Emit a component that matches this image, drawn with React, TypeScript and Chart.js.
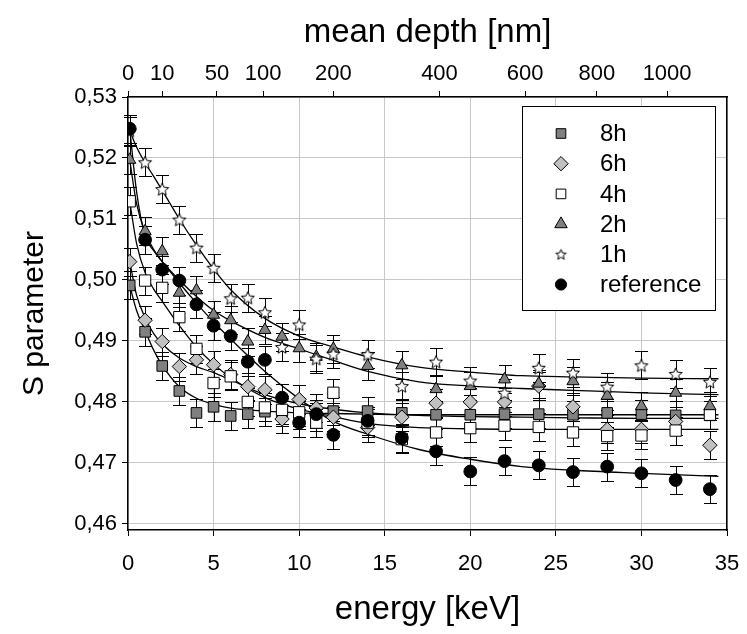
import React, { useEffect, useRef } from 'react';
import { Chart, registerables } from 'chart.js';
import * as helpers from 'chart.js/helpers';

Chart.register(...registerables);

// ---------- data ----------
const energy = [0.1, 1, 2, 3, 4, 5, 6, 7, 8, 9, 10, 11, 12, 14, 16, 18, 20, 22, 24, 26, 28, 30, 32, 34];

const s8h = [0.4991, 0.4915, 0.4859, 0.4818, 0.4782, 0.4792, 0.4777, 0.4780, 0.4784, 0.4783, 0.4778, 0.4775, 0.4785, 0.4785, 0.4782, 0.4779, 0.4779, 0.4780, 0.4780, 0.4779, 0.4782, 0.4780, 0.4778, 0.4778];
const s6h = [0.5030, 0.4934, 0.4899, 0.4858, 0.4869, 0.4861, 0.4845, 0.4825, 0.4820, 0.4772, 0.4804, 0.4790, 0.4775, 0.4758, 0.4775, 0.4798, 0.4800, 0.4800, 0.4826, 0.4792, 0.4755, 0.4755, 0.4768, 0.4729];
const s4h = [0.5129, 0.4999, 0.4987, 0.4939, 0.4887, 0.4831, 0.4842, 0.4800, 0.4791, 0.4787, 0.4783, 0.4766, 0.4815, 0.4766, 0.4739, 0.4750, 0.4757, 0.4761, 0.4759, 0.4750, 0.4744, 0.4745, 0.4753, 0.4779];
const s2h = [0.5197, 0.5080, 0.5047, 0.4979, 0.4983, 0.4943, 0.4934, 0.4899, 0.4918, 0.4907, 0.4888, 0.4874, 0.4887, 0.4859, 0.4860, 0.4821, 0.4826, 0.4837, 0.4830, 0.4834, 0.4810, 0.4793, 0.4815, 0.4793];
const s1h = [0.5245, 0.5193, 0.5149, 0.5099, 0.5053, 0.5020, 0.4970, 0.4971, 0.4947, 0.4890, 0.4927, 0.4871, 0.4879, 0.4878, 0.4826, 0.4866, 0.4835, 0.4815, 0.4856, 0.4848, 0.4825, 0.4860, 0.4846, 0.4833];
const sRef = [0.5248, 0.5066, 0.5017, 0.4999, 0.4960, 0.4925, 0.4908, 0.4866, 0.4869, 0.4807, 0.4766, 0.4780, 0.4746, 0.4769, 0.4741, 0.4719, 0.4686, 0.4703, 0.4696, 0.4685, 0.4694, 0.4683, 0.4672, 0.4657];

const errorHalf = [0.0023, 0.0023, 0.0023, 0.0023, 0.0023, 0.0023];

// fitted curves
const fitEnergy = [0.1, 0.5, 1, 1.5, 2, 3, 4, 5, 6, 8, 10, 12, 14, 17, 20, 23, 26, 30, 34.5];
const fit8h = [0.4991, 0.4950, 0.4917, 0.4885, 0.4860, 0.4825, 0.4806, 0.4796, 0.4790, 0.4785, 0.4782, 0.4781, 0.4780, 0.4779, 0.4779, 0.4779, 0.4779, 0.4779, 0.4779];
const fit6h = [0.5030, 0.4975, 0.4938, 0.4912, 0.4895, 0.4872, 0.4858, 0.4848, 0.4836, 0.4812, 0.4797, 0.4788, 0.4782, 0.4778, 0.4776, 0.4775, 0.4774, 0.4773, 0.4773];
const fit4h = [0.5129, 0.5060, 0.5012, 0.4985, 0.4965, 0.4925, 0.4890, 0.4862, 0.4840, 0.4807, 0.4788, 0.4776, 0.4765, 0.4758, 0.4756, 0.4755, 0.4755, 0.4755, 0.4755];
const fit2h = [0.5197, 0.5125, 0.5078, 0.5050, 0.5030, 0.5000, 0.4973, 0.4950, 0.4933, 0.4906, 0.4887, 0.4868, 0.4850, 0.4833, 0.4826, 0.4822, 0.4819, 0.4815, 0.4812];
const fit1h = [0.5245, 0.5218, 0.5192, 0.5170, 0.5147, 0.5100, 0.5057, 0.5018, 0.4984, 0.4937, 0.4908, 0.4890, 0.4874, 0.4857, 0.4849, 0.4843, 0.4841, 0.4839, 0.4838];
const fitRef = [0.5248, 0.5145, 0.5072, 0.5048, 0.5030, 0.4995, 0.4962, 0.4931, 0.4903, 0.4850, 0.4805, 0.4768, 0.4747, 0.4722, 0.4706, 0.4694, 0.4688, 0.4683, 0.4678];

const seriesLabels = ['8h', '6h', '4h', '2h', '1h', 'reference'];

const xTicks = [0, 5, 10, 15, 20, 25, 30, 35];
const yTicks = [0.46, 0.47, 0.48, 0.49, 0.50, 0.51, 0.52, 0.53];
const depthLabels = ['0', '10', '50', '100', '200', '400', '600', '800', '1000'];
const depthTickEnergy = [0, 2.0, 5.2, 7.9, 12.0, 18.2, 23.2, 27.4, 31.5];

// ---------- styles ----------
const FONT = "'Liberation Sans', Arial, sans-serif";

function makeStar(R: number, lw: number): HTMLCanvasElement {
  const size = Math.ceil(2 * R + 2 * lw + 2);
  const c = document.createElement('canvas');
  c.width = size;
  c.height = size;
  const ctx = c.getContext('2d')!;
  const cx = size / 2;
  const cy = size / 2 + R * 0.1;
  ctx.beginPath();
  for (let i = 0; i < 10; i++) {
    const r = i % 2 === 0 ? R : R * 0.45;
    const a = -Math.PI / 2 + (i * Math.PI) / 5;
    ctx.lineTo(cx + r * Math.cos(a), cy + r * Math.sin(a));
  }
  ctx.closePath();
  ctx.fillStyle = '#ffffff';
  ctx.fill();
  ctx.lineWidth = lw;
  ctx.strokeStyle = '#000000';
  ctx.stroke();
  return c;
}

type Style = { pointStyle: any; radius: number; bg: string; legendStyle: any; legendRadius: number };

function buildStyles(): Style[] {
  const star = makeStar(6.8, 1);
  const starSmall = makeStar(5.4, 1);
  return [
    { pointStyle: 'rect', radius: 7.5, bg: '#808080', legendStyle: 'rect', legendRadius: 6.8 },
    { pointStyle: 'rectRot', radius: 7.2, bg: '#c0c0c0', legendStyle: 'rectRot', legendRadius: 7.2 },
    { pointStyle: 'rect', radius: 8, bg: '#ffffff', legendStyle: 'rect', legendRadius: 6.8 },
    { pointStyle: 'triangle', radius: 7, bg: '#808080', legendStyle: 'triangle', legendRadius: 7.2 },
    { pointStyle: star, radius: 7, bg: '#ffffff', legendStyle: starSmall, legendRadius: 6 },
    { pointStyle: 'circle', radius: 6.4, bg: '#000000', legendStyle: 'circle', legendRadius: 5.6 },
  ];
}

const errorBarPlugin = {
  id: 'errorBars',
  beforeDatasetsDraw(chart: any) {
    const ctx = chart.ctx;
    const xs = chart.scales.x;
    const ys = chart.scales.y;
    const cap = 6.5;
    ctx.save();
    ctx.strokeStyle = '#000';
    ctx.lineWidth = 1;
    chart.data.datasets.forEach((ds: any) => {
      if (ds.errHalf === undefined) return;
      ds.data.forEach((p: any) => {
        const px = Math.round(xs.getPixelForValue(p.x)) + 0.5;
        const y1 = Math.round(ys.getPixelForValue(p.y - ds.errHalf)) + 0.5;
        const y2 = Math.round(ys.getPixelForValue(p.y + ds.errHalf)) + 0.5;
        ctx.beginPath();
        ctx.moveTo(px, y1);
        ctx.lineTo(px, y2);
        ctx.moveTo(px - cap, y1);
        ctx.lineTo(px + cap, y1);
        ctx.moveTo(px - cap, y2);
        ctx.lineTo(px + cap, y2);
        ctx.stroke();
      });
    });
    ctx.restore();
  },
};

const legendPlugin = {
  id: 'insideLegend',
  afterDraw(chart: any) {
    const ctx = chart.ctx;
    const box = { x: 522.5, y: 106.5, w: 193, h: 204 };
    ctx.save();
    ctx.fillStyle = '#fff';
    ctx.fillRect(box.x, box.y, box.w, box.h);
    ctx.strokeStyle = '#000';
    ctx.lineWidth = 1;
    ctx.strokeRect(box.x, box.y, box.w, box.h);
    const items = chart.data.datasets.filter((d: any) => d.legendStyle !== undefined);
    items.sort((a: any, b: any) => a.legendIndex - b.legendIndex);
    items.forEach((ds: any, i: number) => {
      const cy = 133.5 + i * 30.2;
      const cx = 561;
      ctx.fillStyle = ds.backgroundColor;
      ctx.strokeStyle = '#000';
      ctx.lineWidth = 1;
      helpers.drawPoint(ctx, { pointStyle: ds.legendStyle, radius: ds.legendRadius, rotation: 0, borderWidth: 1 }, cx, cy);
      ctx.fillStyle = '#000';
      ctx.font = `24px ${FONT}`;
      ctx.textBaseline = 'middle';
      ctx.textAlign = 'left';
      ctx.fillText(ds.label, 600, cy + 1);
    });
    ctx.restore();
  },
};

export default function App() {
  const ref = useRef<HTMLCanvasElement | null>(null);

  useEffect(() => {
    document.body.style.margin = '0';
    const canvas = ref.current!;
    const styles = buildStyles();
    const series = [s8h, s6h, s4h, s2h, s1h, sRef];
    const fits = [fit8h, fit6h, fit4h, fit2h, fit1h, fitRef];

    const fitSets = fits.map((f, i) => ({
      type: 'line',
      label: seriesLabels[i] + ' fit',
      data: fitEnergy.map((e, k) => ({ x: e, y: f[k] })),
      showLine: true,
      borderColor: '#000',
      borderWidth: 1.3,
      pointRadius: 0,
      fill: false,
      cubicInterpolationMode: 'monotone',
      order: 20,
    }));

    const markerSets = series.map((vals, i) => ({
      type: 'line',
      label: seriesLabels[i],
      data: energy.map((e, k) => ({ x: e, y: vals[k] })),
      showLine: false,
      pointStyle: styles[i].pointStyle,
      pointRadius: styles[i].radius,
      pointBackgroundColor: styles[i].bg,
      backgroundColor: styles[i].bg,
      pointBorderColor: '#000',
      pointBorderWidth: 1,
      errHalf: errorHalf[i],
      legendStyle: styles[i].legendStyle,
      legendRadius: styles[i].legendRadius,
      legendIndex: i,
      order: 6 - i,
    }));

    const tickFont = { family: FONT, size: 22 };
    const titleFontH = { family: FONT, size: 33 };
    const titleFontV = { family: FONT, size: 30 };

    const fixH = (h: number) => (s: any) => {
      s.height = h;
      s.paddingLeft = 0;
      s.paddingRight = 0;
    };
    const fixV = (w: number) => (s: any) => {
      s.width = w;
      s.paddingTop = 0;
      s.paddingBottom = 0;
    };

    const chart = new Chart(canvas, {
      type: 'line',
      data: { datasets: [...fitSets, ...markerSets] as any },
      options: {
        responsive: false,
        animation: false,
        events: [],
        layout: { padding: 0 },
        plugins: { legend: { display: false }, tooltip: { enabled: false } },
        scales: {
          x: {
            type: 'linear',
            position: 'bottom',
            min: 0,
            max: 35,
            afterBuildTicks: (a: any) => { a.ticks = xTicks.map((v) => ({ value: v })); },
            afterFit: fixH(104),
            ticks: { font: tickFont, color: '#000', padding: 15, maxRotation: 0, autoSkip: false, callback: (v: any) => String(v) },
            grid: { color: '#c8c8c8', lineWidth: 1, tickColor: '#000', tickLength: 6 },
            border: { color: '#000', width: 1.5 },
            title: { display: true, text: 'energy [keV]', font: titleFontH, color: '#000', padding: { top: 0, bottom: 4 } },
          },
          xTop: {
            type: 'linear',
            position: 'top',
            min: 0,
            max: 35,
            afterBuildTicks: (a: any) => { a.ticks = depthTickEnergy.map((v) => ({ value: v })); },
            afterFit: fixH(97),
            ticks: { font: tickFont, color: '#000', padding: 4, maxRotation: 0, autoSkip: false, callback: (_v: any, i: number) => depthLabels[i] },
            grid: { drawOnChartArea: false, tickColor: '#000', tickLength: 6 },
            border: { color: '#000', width: 1.5 },
            title: { display: true, text: 'mean depth [nm]', font: titleFontH, color: '#000', padding: { top: 13, bottom: 0 } },
          },
          y: {
            type: 'linear',
            position: 'left',
            min: 0.459,
            max: 0.53,
            afterBuildTicks: (a: any) => { a.ticks = yTicks.map((v) => ({ value: v })); },
            afterFit: fixV(128),
            ticks: { font: tickFont, color: '#000', padding: 5, callback: (v: any) => Number(v).toFixed(2).replace('.', ',') },
            grid: { color: '#c8c8c8', lineWidth: 1, tickColor: '#000', tickLength: 6 },
            border: { color: '#000', width: 1.5 },
            title: { display: true, text: 'S parameter', font: titleFontV, color: '#000', padding: { top: 17, bottom: 0 } },
          },
          yR: {
            type: 'linear',
            position: 'right',
            min: 0.459,
            max: 0.53,
            afterFit: fixV(20),
            ticks: { display: false },
            grid: { drawOnChartArea: false, drawTicks: false },
            border: { color: '#000', width: 1.5 },
          },
        },
      } as any,
      plugins: [errorBarPlugin, legendPlugin],
    });

    return () => chart.destroy();
  }, []);

  return <canvas ref={ref} width={747} height={634} style={{ display: 'block' }} />;
}
